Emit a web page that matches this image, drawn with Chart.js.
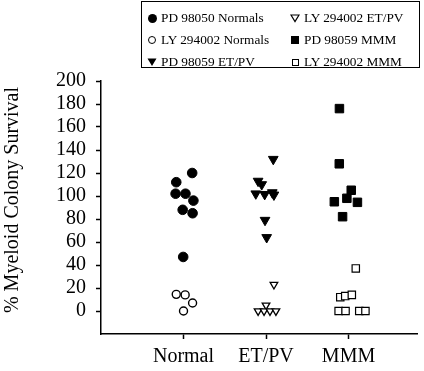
<!DOCTYPE html>
<html><head><meta charset="utf-8">
<script src="https://cdn.jsdelivr.net/npm/chart.js@4.4.1/dist/chart.umd.min.js"></script>
<style>
html,body{margin:0;padding:0;background:#fff;}
#wrap{position:relative;width:424px;height:371px;}
#c{position:absolute;left:0;top:0;}
#legend{position:absolute;left:141px;top:1px;width:279px;height:67px;border:1px solid #000;box-sizing:border-box;
 font-family:"Liberation Serif",serif;font-size:13.3px;color:#000;}
.it{position:absolute;white-space:nowrap;line-height:16px;}
.mk{position:absolute;}
</style></head>
<body><div id="wrap"><canvas id="c" width="424" height="371"></canvas><div id="legend"></div></div>
<script>
const categories = ['Normal', 'ET/PV', 'MMM'];
const yTicks = [0, 20, 40, 60, 80, 100, 120, 140, 160, 180, 200];
const seriesNames = ['PD 98050 Normals', 'LY 294002 Normals', 'PD 98059 ET/PV', 'LY 294002 ET/PV', 'PD 98059 MMM', 'LY 294002 MMM'];

const pdNormalX = [1.105, 0.912, 0.904, 1.024, 1.12, 0.99, 1.11, 0.996];
const pdNormalY = [120, 112, 102, 102, 96, 88, 85, 47];
const lyNormalX = [0.912, 1.02, 1.11, 1.0];
const lyNormalY = [14.5, 14, 7, 0];
const pdEtX = [2.088, 1.904, 1.948, 1.876, 1.984, 2.076, 2.096, 1.988, 2.008];
const pdEtY = [132, 113, 110, 102, 101.5, 103, 101, 79, 64];
const lyEtX = [2.096, 2.0, 1.904, 1.976, 2.048, 2.12];
const lyEtY = [23, 5, 0, 0, 0, 0];
const pdMmmX = [2.89, 2.888, 3.033, 2.98, 2.828, 3.108, 2.928];
const pdMmmY = [176, 128, 105, 98, 95, 94.5, 82];
const lyMmmX = [3.088, 2.9, 2.96, 3.04, 2.88, 2.964, 3.13, 3.205];
const lyMmmY = [37, 12, 13, 14, 0, 0, 0, 0];

function pts(xs, ys){ return xs.map((x,i)=>({x:x, y:ys[i]})); }

const styles = [
  {pointStyle:'circle', radius:4.8, bg:'#000', border:'#000', bw:1, rot:0},
  {pointStyle:'circle', radius:4.0, bg:'#fff', border:'#000', bw:1.4, rot:0},
  {pointStyle:'triangle', radius:5.6, bg:'#000', border:'#000', bw:1, rot:180},
  {pointStyle:'triangle', radius:4.4, bg:'#fff', border:'#000', bw:1.3, rot:180},
  {pointStyle:'rect', radius:6.0, bg:'#000', border:'#000', bw:1, rot:0},
  {pointStyle:'rect', radius:5.2, bg:'#fff', border:'#000', bw:1.2, rot:0}
];
const dataSets = [pts(pdNormalX,pdNormalY), pts(lyNormalX,lyNormalY), pts(pdEtX,pdEtY), pts(lyEtX,lyEtY), pts(pdMmmX,pdMmmY), pts(lyMmmX,lyMmmY)];

const datasets = dataSets.map((d,i)=>({
  label: seriesNames[i], data: d, showLine:false,
  pointStyle: styles[i].pointStyle, pointRadius: styles[i].radius, pointRotation: styles[i].rot,
  pointBackgroundColor: styles[i].bg, pointBorderColor: styles[i].border, pointBorderWidth: styles[i].bw,
  pointHoverRadius: styles[i].radius
}));

const serif = '"Liberation Serif", "Times New Roman", serif';

new Chart(document.getElementById('c'), {
  type: 'scatter',
  data: { datasets },
  options: {
    responsive:false, animation:false, devicePixelRatio:1,
    layout:{padding:{top:81, right:1, left:0, bottom:0}},
    plugins:{legend:{display:false}, tooltip:{enabled:false}},
    scales:{
      x:{
        type:'linear', min:0, max:3.83,
        afterBuildTicks:(s)=>{ s.ticks = categories.map((c,i)=>({value:i+1})); },
        afterFit:(s)=>{ s.height = 37; },
        ticks:{ callback:(v)=>categories[Math.round(v)-1] || '', color:'#000', font:{family:serif, size:20}, padding:6, maxRotation:0, autoSkip:false },
        grid:{ drawOnChartArea:false, drawTicks:true, tickLength:5, color:'#000', tickWidth:1.5 },
        border:{ display:true, color:'#000', width:1.5 }
      },
      y:{
        type:'linear', min:-20, max:200,
        afterBuildTicks:(s)=>{ s.ticks = yTicks.map(v=>({value:v})); },
        afterFit:(s)=>{ s.width = 101; },
        ticks:{ color:'#000', font:{family:serif, size:20}, padding:10, autoSkip:false },
        grid:{ drawOnChartArea:false, drawTicks:true, tickLength:5, color:'#000', tickWidth:1.5 },
        border:{ display:true, color:'#000', width:1.5 },
        title:{ display:true, text:'\u00a0\u00a0\u00a0% Myeloid Colony Survival', color:'#000', font:{family:serif, size:20}, padding:{top:1,bottom:0} }
      }
    }
  }
});

// HTML legend (two columns, column-major order like the reference)
const legend = document.getElementById('legend');
const cols = [[0,1,2],[3,4,5]];
const colX = [10, 153];
const rowY = [17, 39, 61];
function markerHTML(i){
  const s = styles[i];
  if (s.pointStyle === 'circle') {
    const d = i===0 ? 9 : 8;
    return `<span class="mk" style="left:${-d/2}px;top:${-d/2}px;width:${d}px;height:${d}px;border-radius:50%;box-sizing:border-box;border:${i===0?0:1.3}px solid #000;background:${s.bg}"></span>`;
  }
  if (s.pointStyle === 'rect') {
    const d = i===4 ? 8 : 7;
    return `<span class="mk" style="left:${-d/2}px;top:${-d/2}px;width:${d}px;height:${d}px;box-sizing:border-box;border:1.2px solid #000;background:${s.bg}"></span>`;
  }
  if (i===2) {
    return `<svg class="mk" style="left:-5px;top:-5px" width="10" height="10"><polygon points="0.5,1.5 9.5,1.5 5,9" fill="#000"/></svg>`;
  }
  return `<svg class="mk" style="left:-5px;top:-5px" width="10" height="10"><polygon points="1,2 9,2 5,8.5" fill="#fff" stroke="#000" stroke-width="1.2"/></svg>`;
}
cols.forEach((col,ci)=>{
  col.forEach((idx,ri)=>{
    const m = document.createElement('div');
    m.style.position='absolute'; m.style.left=colX[ci]+'px'; m.style.top=(rowY[ri]-1)+'px';
    m.innerHTML = markerHTML(idx);
    legend.appendChild(m);
    const t = document.createElement('div');
    t.className='it'; t.style.left=(colX[ci]+9)+'px'; t.style.top=(rowY[ri]-9)+'px';
    t.textContent = seriesNames[idx];
    legend.appendChild(t);
  });
});
</script></body></html>
